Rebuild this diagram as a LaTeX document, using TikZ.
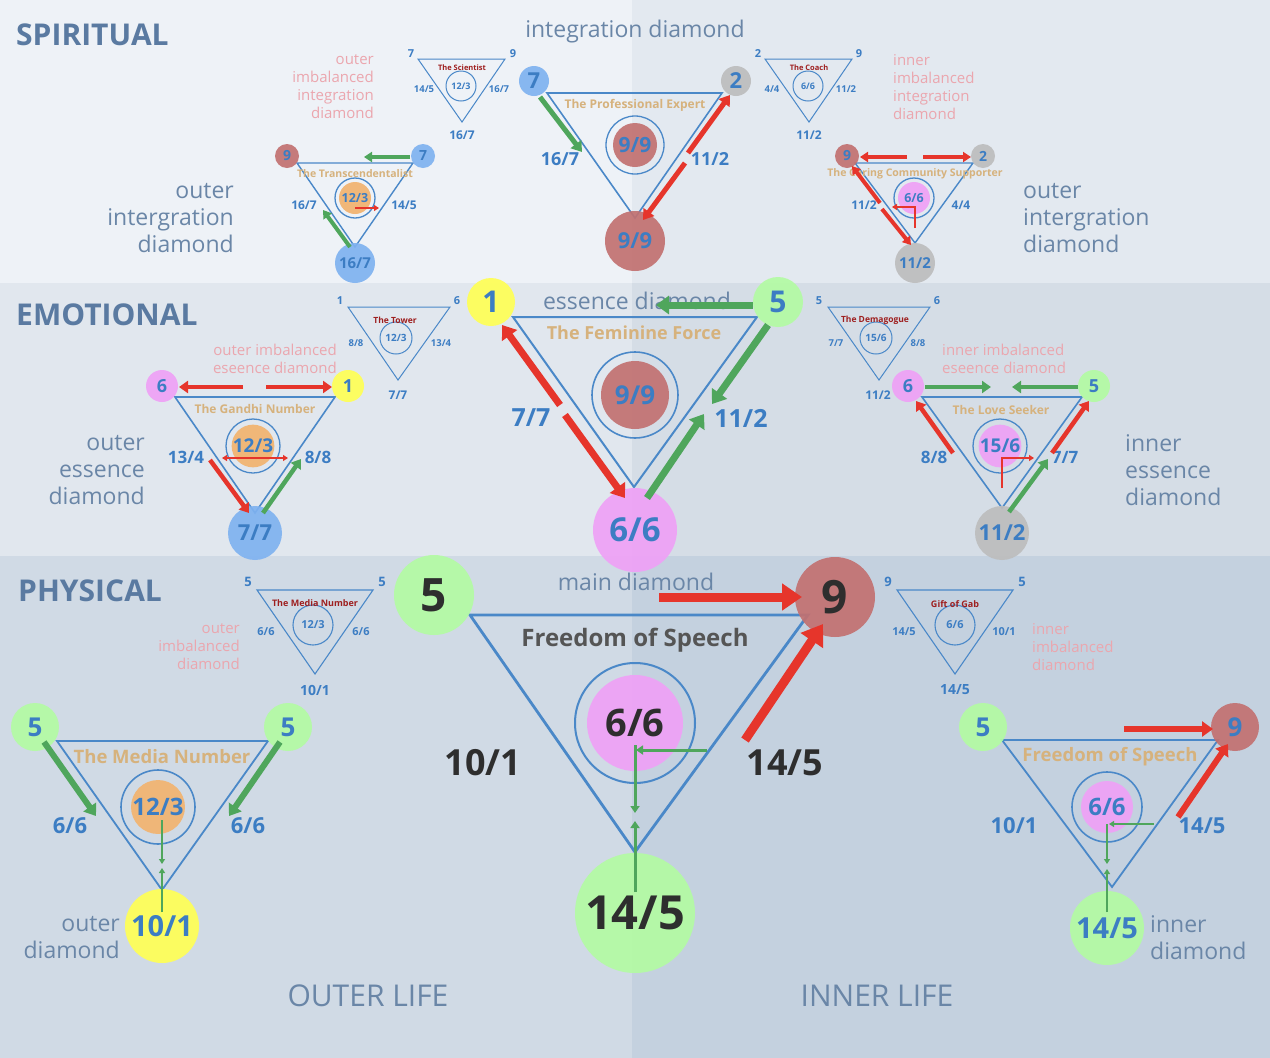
\documentclass[tikz,border=0pt]{standalone}
\usepackage{fontspec}
\setmainfont{Open Sans}
\usetikzlibrary{arrows.meta}
\definecolor{bgA}{HTML}{EEF2F7}
\definecolor{bgB}{HTML}{E3E9F0}
\definecolor{bgC}{HTML}{E1E7EE}
\definecolor{bgD}{HTML}{D5DDE6}
\definecolor{bgE}{HTML}{D0DAE5}
\definecolor{bgF}{HTML}{C4D1DF}
\definecolor{triblue}{HTML}{4A88C8}
\definecolor{lblue}{HTML}{3C7DC3}
\definecolor{cblue}{HTML}{7FB2F0}
\definecolor{cgray}{HTML}{BDBDBD}
\definecolor{cred}{HTML}{C27171}
\definecolor{cyellow}{HTML}{FFFF55}
\definecolor{cgreen}{HTML}{B3FBA3}
\definecolor{cpink}{HTML}{EFA1F6}
\definecolor{corange}{HTML}{F2B36F}
\definecolor{ared}{HTML}{E6352B}
\definecolor{agreen}{HTML}{4FA65C}
\definecolor{tantxt}{HTML}{D6B27D}
\definecolor{dredtxt}{HTML}{9E1F1F}
\definecolor{pinktxt}{HTML}{EBA6AE}
\definecolor{gtxt}{HTML}{6A86A7}
\definecolor{headtxt}{HTML}{5A7AA1}
\definecolor{darktxt}{HTML}{2E2E2E}
\definecolor{fostxt}{HTML}{555555}
\tikzset{
  tri/.style={draw=triblue,line width=1.4pt,line join=miter},
  ring/.style={draw=triblue,line width=1.3pt},
  lb/.style={text=lblue,font=\bfseries\fontsize{#1}{#1}\selectfont,inner sep=0pt},
  db/.style={text=darktxt,font=\bfseries\fontsize{#1}{#1}\selectfont,inner sep=0pt},
  tl/.style={text=tantxt,font=\bfseries\fontsize{#1}{#1}\selectfont,inner sep=0pt},
  rl/.style={text=dredtxt,font=\bfseries\fontsize{#1}{#1}\selectfont,inner sep=0pt},
  gt/.style={text=gtxt,font=\fontsize{#1}{27}\selectfont,inner sep=0pt},
  pt/.style={text=pinktxt,font=\fontsize{15}{18}\selectfont,inner sep=0pt},
  hd/.style={text=headtxt,font=\bfseries\fontsize{30}{30}\selectfont,inner sep=0pt,anchor=west},
  bub/.style={circle,inner sep=0pt,minimum size=#1,fill opacity=0.92,text opacity=1},
  aS/.style={line width=5pt,-{Triangle[length=10pt,width=13pt]}},
  aT/.style={line width=4pt,-{Triangle[length=8pt,width=10pt]}},
  aE/.style={line width=7pt,-{Triangle[length=13pt,width=18pt]}},
  aG/.style={line width=4.5pt,-{Triangle[length=9pt,width=12pt]}},
  aP/.style={line width=9pt,-{Triangle[length=20pt,width=26pt]}},
  aB/.style={line width=6pt,-{Triangle[length=11pt,width=15pt]}},
  aThin/.style={line width=3pt,-{Triangle[length=7pt,width=9pt]}},
  aHair/.style={line width=1.6pt,-{Triangle[length=5pt,width=6pt]}},
}
\begin{document}
\begin{tikzpicture}[x=1pt,y=-1pt]
\useasboundingbox (0,0) rectangle (1270,1058);
% backgrounds
\fill[bgA] (0,0) rectangle (632,283);
\fill[bgB] (632,0) rectangle (1270,283);
\fill[bgC] (0,283) rectangle (632,556);
\fill[bgD] (632,283) rectangle (1270,556);
\fill[bgE] (0,556) rectangle (632,1058);
\fill[bgF] (632,556) rectangle (1270,1058);

% ================= SPIRITUAL =================
\node[hd] (hS) at (16,35) {SPIRITUAL};
\node[gt=23] (tIntD) at (635,32) {integration diamond};

% main spiritual triangle
\coordinate (SA) at (547,93); \coordinate (SB) at (722,93); \coordinate (SC) at (635,218);
\draw[tri,line width=1.6pt] (SA)--(SB)--(SC)--cycle;
\node[bub=30pt,fill=cblue,lb=22] (s7) at (534,81) {7};
\node[bub=30pt,fill=cgray,lb=22] (s2) at (736,81) {2};
\node[bub=44pt,fill=cred,lb=21] (s99c) at (635,145) {9/9};
\draw[ring] (s99c.center) circle[radius=29];
\node[bub=60pt,fill=cred,lb=22] (s99b) at (635,241) {9/9};
\node[tl=12] (tPE) at (635,105) {The Professional Expert};
\node[lb=18] (sl1) at (560,159) {16/7};
\node[lb=18] (sl2) at (710,159) {11/2};
\coordinate (sa1) at (540,97); \coordinate (sa2) at (582,152);
\draw[aS,agreen] (sa1)--(sa2);
\coordinate (sa3) at (688,153); \coordinate (sa4) at (730,95);
\draw[aS,ared] (sa3)--(sa4);
\coordinate (sa5) at (685,163); \coordinate (sa6) at (643,220);
\draw[aS,ared] (sa5)--(sa6);

% The Scientist
\coordinate (scA) at (418,59); \coordinate (scB) at (505,59); \coordinate (scC) at (462,122);
\draw[tri,line width=1pt] (scA)--(scB)--(scC)--cycle;
\node[lb=11] (sc1) at (411,54) {7};
\node[lb=11] (sc2) at (513,54) {9};
\node[lb=9.5] (sc3) at (424,89) {14/5};
\node[lb=9.5] (sc4) at (499,89) {16/7};
\node[lb=12] (sc5) at (462,135) {16/7};
\node[circle,draw=triblue,line width=1pt,minimum size=30pt,inner sep=0pt,lb=9] (sc6) at (461,86) {12/3};
\node[rl=7.5] (sc7) at (462,68) {The Scientist};
\node[pt,align=right,anchor=east] (pOII) at (374,87) {outer\\imbalanced\\integration\\diamond};

% The Transcendentalist
\coordinate (trA) at (297,163); \coordinate (trB) at (413,163); \coordinate (trC) at (355,247);
\draw[tri] (trA)--(trB)--(trC)--cycle;
\node[bub=24pt,fill=cred,lb=14] (t9) at (287,156) {9};
\node[bub=24pt,fill=cblue,lb=14] (t7) at (423,156) {7};
\node[bub=40pt,fill=cblue,lb=15] (t167) at (355,263) {16/7};
\node[bub=32pt,fill=corange,lb=12.5] (t123) at (355,198) {12/3};
\draw[ring] (t123.center) circle[radius=20];
\node[tl=10.5] (tTr) at (355,174) {The Transcendentalist};
\node[lb=12] (tl1) at (304,205) {16/7};
\node[lb=12] (tl2) at (404,205) {14/5};
\coordinate (ta1) at (410,157); \coordinate (ta2) at (364,157);
\draw[aT,agreen] (ta1)--(ta2);
\coordinate (ta3) at (350,247); \coordinate (ta4) at (323,210);
\draw[aT,agreen] (ta3)--(ta4);
\coordinate (ta5) at (355,208); \coordinate (ta6) at (379,208);
\draw[aHair,ared] (ta5)--(ta6);
\node[gt=23,align=right,anchor=east] (gOID) at (234,218) {outer\\intergration\\diamond};

% The Coach
\coordinate (coA) at (765,59); \coordinate (coB) at (852,59); \coordinate (coC) at (809,122);
\draw[tri,line width=1pt] (coA)--(coB)--(coC)--cycle;
\node[lb=11] (co1) at (758,54) {2};
\node[lb=11] (co2) at (859,54) {9};
\node[lb=9.5] (co3) at (772,89) {4/4};
\node[lb=9.5] (co4) at (846,89) {11/2};
\node[lb=12] (co5) at (809,135) {11/2};
\node[circle,draw=triblue,line width=1pt,minimum size=30pt,inner sep=0pt,lb=9] (co6) at (808,86) {6/6};
\node[rl=7.5] (co7) at (809,68) {The Coach};
\node[pt,align=left,anchor=west] (pIII) at (893,87) {inner\\imbalanced\\integration\\diamond};

% The Caring Community Supporter
\coordinate (caA) at (855,163); \coordinate (caB) at (973,163); \coordinate (caC) at (915,243);
\draw[tri] (caA)--(caB)--(caC)--cycle;
\node[bub=24pt,fill=cred,lb=14] (c9) at (847,156) {9};
\node[bub=24pt,fill=cgray,lb=14] (c2) at (983,156) {2};
\node[bub=40pt,fill=cgray,lb=15] (c112) at (915,263) {11/2};
\node[bub=32pt,fill=cpink,lb=12.5] (c66) at (914,198) {6/6};
\draw[ring] (c66.center) circle[radius=20];
\node[tl=10.5] (tCa) at (915,174) {The Caring Community Supporter};
\node[lb=12] (cl1) at (864,205) {11/2};
\node[lb=12] (cl2) at (961,205) {4/4};
\coordinate (ca1) at (907,157); \coordinate (ca2) at (860,157);
\draw[aT,ared] (ca1)--(ca2);
\coordinate (ca3) at (923,157); \coordinate (ca4) at (971,157);
\draw[aT,ared] (ca3)--(ca4);
\coordinate (ca5) at (880,203); \coordinate (ca6) at (852,166);
\draw[aT,ared] (ca5)--(ca6);
\coordinate (ca7) at (882,209); \coordinate (ca8) at (911,245);
\draw[aT,ared] (ca7)--(ca8);
\coordinate (ca9) at (915,228); \coordinate (ca10) at (915,207); \coordinate (ca11) at (892,207);
\draw[aHair,ared] (ca9)--(ca10)--(ca11);
\node[gt=23,align=left,anchor=west] (gOID2) at (1023,218) {outer\\intergration\\diamond};

% ================= EMOTIONAL =================
\node[hd] (hE) at (16,315) {EMOTIONAL};
\node[gt=23] (tEsD) at (637,301) {essence diamond};
\coordinate (EA) at (513,317); \coordinate (EB) at (757,317); \coordinate (EC) at (634,487);
\draw[tri,line width=2pt] (EA)--(EB)--(EC)--cycle;
\node[bub=48pt,fill=cyellow,lb=30] (e1) at (491,302) {1};
\node[bub=50pt,fill=cgreen,lb=30] (e5) at (778,302) {5};
\node[bub=68pt,fill=cred,lb=26] (e99) at (635,395) {9/9};
\draw[ring,line width=1.6pt] (e99.center) circle[radius=43];
\node[bub=84pt,fill=cpink,lb=33] (e66) at (635,530) {6/6};
\node[tl=18] (tFF) at (634,333) {The Feminine Force};
\node[lb=25] (el1) at (531,418) {7/7};
\node[lb=25] (el2) at (741,418) {11/2};
\coordinate (ea1) at (560,405); \coordinate (ea2) at (502,325);
\draw[aE,ared] (ea1)--(ea2);
\coordinate (ea3) at (565,415); \coordinate (ea4) at (625,498);
\draw[aE,ared] (ea3)--(ea4);
\coordinate (ea5) at (753,305); \coordinate (ea6) at (656,305);
\draw[aE,agreen] (ea5)--(ea6);
\coordinate (ea7) at (768,325); \coordinate (ea8) at (712,404);
\draw[aE,agreen] (ea7)--(ea8);
\coordinate (ea9) at (647,498); \coordinate (ea10) at (704,414);
\draw[aE,agreen] (ea9)--(ea10);

% The Tower
\coordinate (toA) at (348,307); \coordinate (toB) at (450,307); \coordinate (toC) at (398,380);
\draw[tri,line width=1pt] (toA)--(toB)--(toC)--cycle;
\node[lb=11] (to1) at (340,301) {1};
\node[lb=11] (to2) at (457,301) {6};
\node[lb=9.5] (to3) at (356,343) {8/8};
\node[lb=9.5] (to4) at (441,343) {13/4};
\node[lb=12] (to5) at (398,395) {7/7};
\node[circle,draw=triblue,line width=1pt,minimum size=32pt,inner sep=0pt,lb=10] (to6) at (396,338) {12/3};
\node[rl=8.5] (to7) at (395,320) {The Tower};
\node[pt,align=right,anchor=east] (pOIE) at (337,359) {outer imbalanced\\eseence diamond};

% The Gandhi Number
\coordinate (gaA) at (175,397); \coordinate (gaB) at (335,397); \coordinate (gaC) at (255,513);
\draw[tri,line width=1.6pt] (gaA)--(gaB)--(gaC)--cycle;
\node[bub=32pt,fill=cpink,lb=18] (g6) at (162,386) {6};
\node[bub=32pt,fill=cyellow,lb=18] (g1) at (348,386) {1};
\node[bub=54pt,fill=cblue,lb=22] (g77) at (255,533) {7/7};
\node[bub=40pt,fill=corange,lb=19] (g123) at (253,446) {12/3};
\draw[ring] (g123.center) circle[radius=27];
\node[tl=12] (tGa) at (255,409) {The Gandhi Number};
\node[lb=17] (gl1) at (186,457) {13/4};
\node[lb=17] (gl2) at (318,457) {8/8};
\coordinate (ga1) at (243,387); \coordinate (ga2) at (179,387);
\draw[aG,ared] (ga1)--(ga2);
\coordinate (ga3) at (266,387); \coordinate (ga4) at (332,387);
\draw[aG,ared] (ga3)--(ga4);
\coordinate (ga5) at (222,458); \coordinate (ga6) at (288,458);
\draw[aHair,ared,{Triangle[length=5pt,width=6pt]}-{Triangle[length=5pt,width=6pt]}] (ga5)--(ga6);
\coordinate (ga7) at (210,460); \coordinate (ga8) at (249,513);
\draw[aG,ared] (ga7)--(ga8);
\coordinate (ga9) at (263,513); \coordinate (ga10) at (301,459);
\draw[aG,agreen] (ga9)--(ga10);
\node[gt=23,align=right,anchor=east] (gOED) at (145,470) {outer\\essence\\diamond};

% The Demagogue
\coordinate (deA) at (828,307); \coordinate (deB) at (930,307); \coordinate (deC) at (879,380);
\draw[tri,line width=1pt] (deA)--(deB)--(deC)--cycle;
\node[lb=11] (de1) at (819,301) {5};
\node[lb=11] (de2) at (937,301) {6};
\node[lb=9.5] (de3) at (836,343) {7/7};
\node[lb=9.5] (de4) at (918,343) {8/8};
\node[lb=12] (de5) at (878,395) {11/2};
\node[circle,draw=triblue,line width=1pt,minimum size=32pt,inner sep=0pt,lb=10] (de6) at (876,338) {15/6};
\node[rl=8.5] (de7) at (875,320) {The Demagogue};
\node[pt,align=left,anchor=west] (pIIE) at (942,359) {inner imbalanced\\eseence diamond};

% The Love Seeker
\coordinate (loA) at (922,397); \coordinate (loB) at (1082,397); \coordinate (loC) at (1002,508);
\draw[tri,line width=1.6pt] (loA)--(loB)--(loC)--cycle;
\node[bub=32pt,fill=cpink,lb=18] (l6) at (908,386) {6};
\node[bub=32pt,fill=cgreen,lb=18] (l5) at (1094,386) {5};
\node[bub=54pt,fill=cgray,lb=22] (l112) at (1002,533) {11/2};
\node[bub=40pt,fill=cpink,lb=19] (l156) at (1000,446) {15/6};
\draw[ring] (l156.center) circle[radius=27];
\node[tl=12] (tLo) at (1001,410) {The Love Seeker};
\node[lb=17] (ll1) at (934,457) {8/8};
\node[lb=17] (ll2) at (1065,457) {7/7};
\coordinate (la1) at (925,387); \coordinate (la2) at (991,387);
\draw[aG,agreen] (la1)--(la2);
\coordinate (la3) at (1078,387); \coordinate (la4) at (1012,387);
\draw[aG,agreen] (la3)--(la4);
\coordinate (la5) at (953,453); \coordinate (la6) at (916,401);
\draw[aG,ared] (la5)--(la6);
\coordinate (la7) at (1052,453); \coordinate (la8) at (1089,401);
\draw[aG,ared] (la7)--(la8);
\coordinate (la9) at (1009,512); \coordinate (la10) at (1048,459);
\draw[aG,agreen] (la9)--(la10);
\coordinate (la11) at (1002,488); \coordinate (la12) at (1002,458); \coordinate (la13) at (1034,458);
\draw[aHair,ared] (la11)--(la12)--(la13);
\node[gt=23,align=left,anchor=west] (gIED) at (1125,470) {inner\\essence\\diamond};

% ================= PHYSICAL =================
\node[hd] (hP) at (18,591) {PHYSICAL};
\node[gt=23] (tMD) at (636,582) {main diamond};
\coordinate (PA) at (470,615); \coordinate (PB) at (808,615); \coordinate (PC) at (635,852);
\draw[tri,line width=2.8pt] (PA)--(PB)--(PC)--cycle;
\node[bub=80pt,fill=cgreen,db=46] (p5) at (434,595) {5};
\node[bub=80pt,fill=cred,db=46] (p9) at (835,597) {9};
\node[bub=96pt,fill=cpink,db=38] (p66) at (635,723) {6/6};
\draw[ring,line width=2pt] (p66.center) circle[radius=60];
\node[bub=120pt,fill=cgreen,db=47] (p145) at (635,913) {14/5};
\node[text=fostxt,font=\bfseries\fontsize{24}{24}\selectfont,inner sep=0pt] (tFS) at (635,640) {Freedom of Speech};
\node[db=36] (pl1) at (483,763) {10/1};
\node[db=36] (pl2) at (785,763) {14/5};
\coordinate (pa1) at (659,597); \coordinate (pa2) at (802,597);
\draw[aP,ared] (pa1)--(pa2);
\coordinate (pa3) at (745,740); \coordinate (pa4) at (823,624);
\draw[aP,ared] (pa3)--(pa4);
\coordinate (pa5) at (707,750); \coordinate (pa6) at (636,750);
\draw[aThin,agreen] (pa5)--(pa6);
\coordinate (pa7) at (635,745); \coordinate (pa8) at (635,813);
\draw[aThin,agreen] (pa7)--(pa8);
\coordinate (pa9) at (635,892); \coordinate (pa10) at (635,821);
\draw[aThin,agreen] (pa9)--(pa10);

% small Media Number
\coordinate (smA) at (257,590); \coordinate (smB) at (373,590); \coordinate (smC) at (315,674);
\draw[tri,line width=1.1pt] (smA)--(smB)--(smC)--cycle;
\node[lb=13] (sm1) at (248,582) {5};
\node[lb=13] (sm2) at (382,582) {5};
\node[lb=11] (sm3) at (266,632) {6/6};
\node[lb=11] (sm4) at (361,632) {6/6};
\node[lb=14] (sm5) at (315,690) {10/1};
\node[circle,draw=triblue,line width=1.1pt,minimum size=40pt,inner sep=0pt,lb=11] (sm6) at (313,625) {12/3};
\node[rl=9] (sm7) at (315,603) {The Media Number};
\node[pt,align=right,anchor=east] (pOID) at (240,647) {outer\\imbalanced\\diamond};

% small Gift of Gab
\coordinate (sgA) at (897,590); \coordinate (sgB) at (1013,590); \coordinate (sgC) at (955,674);
\draw[tri,line width=1.1pt] (sgA)--(sgB)--(sgC)--cycle;
\node[lb=13] (sg1) at (888,582) {9};
\node[lb=13] (sg2) at (1022,582) {5};
\node[lb=11] (sg3) at (904,632) {14/5};
\node[lb=11] (sg4) at (1004,632) {10/1};
\node[lb=14] (sg5) at (955,690) {14/5};
\node[circle,draw=triblue,line width=1.1pt,minimum size=40pt,inner sep=0pt,lb=11] (sg6) at (955,625) {6/6};
\node[rl=9] (sg7) at (955,604) {Gift of Gab};
\node[pt,align=left,anchor=west] (pIID) at (1032,647) {inner\\imbalanced\\diamond};

% outer diamond (bottom left)
\coordinate (mdA) at (57,741); \coordinate (mdB) at (268,741); \coordinate (mdC) at (162,890);
\draw[tri,line width=1.8pt] (mdA)--(mdB)--(mdC)--cycle;
\node[bub=48pt,fill=cgreen,lb=26] (m5a) at (35,727) {5};
\node[bub=48pt,fill=cgreen,lb=26] (m5b) at (288,727) {5};
\node[bub=74pt,fill=cyellow,lb=29] (m101) at (162,926) {10/1};
\node[bub=52pt,fill=corange,lb=24] (m123) at (158,807) {12/3};
\draw[ring,line width=1.6pt] (m123.center) circle[radius=37];
\node[tl=18.5] (tMN) at (162,757) {The Media Number};
\node[lb=22] (ml1) at (70,826) {6/6};
\node[lb=22] (ml2) at (248,826) {6/6};
\coordinate (ma1) at (44,742); \coordinate (ma2) at (96,816);
\draw[aB,agreen] (ma1)--(ma2);
\coordinate (ma3) at (280,742); \coordinate (ma4) at (229,816);
\draw[aB,agreen] (ma3)--(ma4);
\coordinate (ma5) at (162,820); \coordinate (ma6) at (162,864);
\draw[aHair,agreen,line width=2pt] (ma5)--(ma6);
\coordinate (ma7) at (162,912); \coordinate (ma8) at (162,868);
\draw[aHair,agreen,line width=2pt] (ma7)--(ma8);
\node[gt=23,align=right,anchor=east] (gOD) at (120,938) {outer\\diamond};

% inner diamond (bottom right)
\coordinate (fdA) at (1002,740); \coordinate (fdB) at (1218,740); \coordinate (fdC) at (1112,887);
\draw[tri,line width=1.8pt] (fdA)--(fdB)--(fdC)--cycle;
\node[bub=48pt,fill=cgreen,lb=26] (f5) at (983,727) {5};
\node[bub=48pt,fill=cred,lb=26] (f9) at (1235,727) {9};
\node[bub=74pt,fill=cgreen,lb=29] (f145) at (1107,928) {14/5};
\node[bub=52pt,fill=cpink,lb=24] (f66) at (1107,807) {6/6};
\draw[ring,line width=1.6pt] (f66.center) circle[radius=35];
\node[tl=18.5] (tFS2) at (1110,757) {Freedom of Speech};
\node[lb=22] (fl1) at (1014,826) {10/1};
\node[lb=22] (fl2) at (1202,826) {14/5};
\coordinate (fa1) at (1124,729); \coordinate (fa2) at (1213,729);
\draw[aB,ared] (fa1)--(fa2);
\coordinate (fa3) at (1178,817); \coordinate (fa4) at (1228,744);
\draw[aB,ared] (fa3)--(fa4);
\coordinate (fa5) at (1154,824); \coordinate (fa6) at (1109,824);
\draw[aHair,agreen,line width=2pt] (fa5)--(fa6);
\coordinate (fa7) at (1107,824); \coordinate (fa8) at (1107,864);
\draw[aHair,agreen,line width=2pt] (fa7)--(fa8);
\coordinate (fa9) at (1107,912); \coordinate (fa10) at (1107,869);
\draw[aHair,agreen,line width=2pt] (fa9)--(fa10);
\node[gt=23,align=left,anchor=west] (gID) at (1150,938) {inner\\diamond};

% life labels
\node[gt=30] (tOL) at (368,996) {OUTER LIFE};
\node[gt=30] (tIL) at (877,996) {INNER LIFE};
\end{tikzpicture}
\end{document}
